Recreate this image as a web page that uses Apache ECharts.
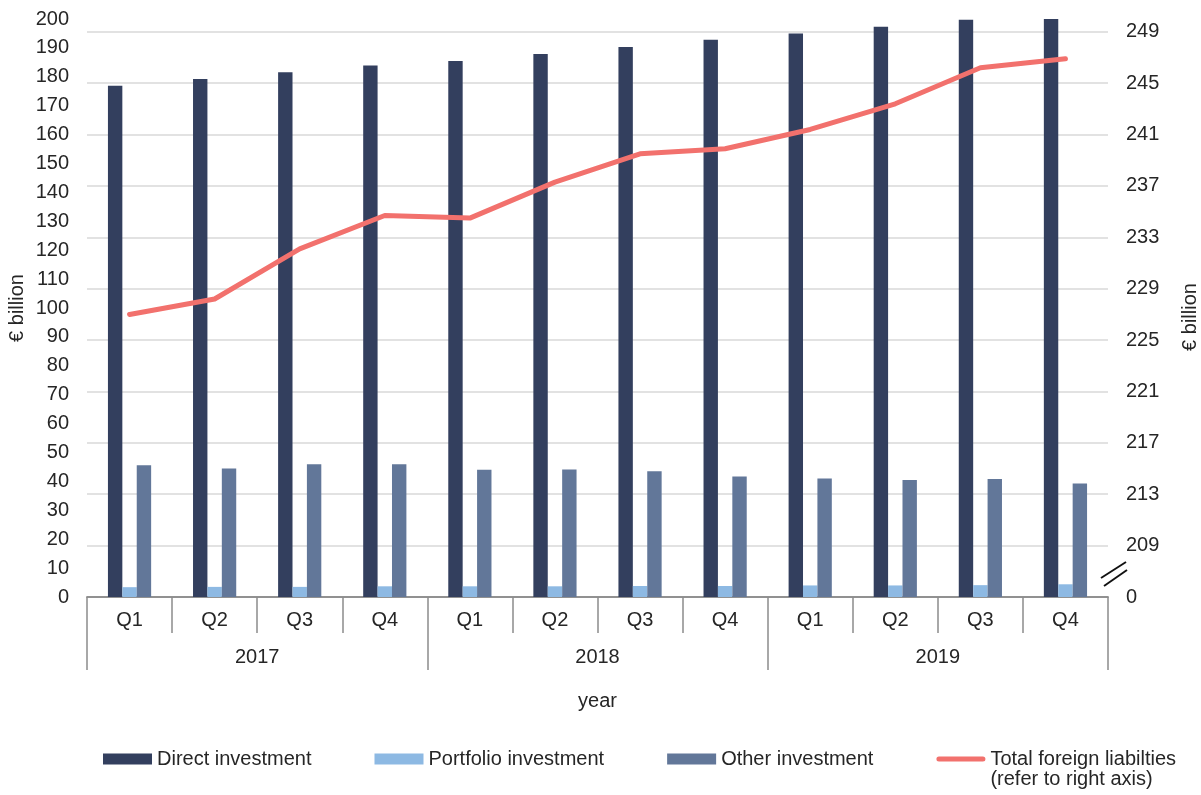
<!DOCTYPE html>
<html lang="en">
<head>
    <meta charset="UTF-8">
    <script src="https://cdn.jsdelivr.net/npm/echarts@6.0.0/dist/echarts.min.js"></script>
    <title>Foreign liabilities</title>
    <style>
      body { margin: 0; background: #fff; }
    </style>
</head>
<body>
    <div id="main" style="width: 1201px;height:795px;"></div>
    <script type="text/javascript">
      // data
      var quarters = ['Q1', 'Q2', 'Q3', 'Q4', 'Q1', 'Q2', 'Q3', 'Q4', 'Q1', 'Q2', 'Q3', 'Q4'];
      var years = ['2017', '2018', '2019'];
      var directInvestment = [176.9, 179.2, 181.6, 183.9, 185.5, 187.9, 190.3, 192.8, 195.0, 197.3, 199.7, 200];
      var portfolioInvestment = [3.4, 3.5, 3.5, 3.7, 3.7, 3.7, 3.8, 3.8, 4.0, 4.0, 4.1, 4.4];
      var otherInvestment = [45.6, 44.5, 45.9, 45.9, 44.0, 44.1, 43.5, 41.7, 41.0, 40.5, 40.8, 39.3];
      var totalLiabilities = [227.0, 228.2, 232.1, 234.7, 234.5, 237.3, 239.5, 239.9, 241.4, 243.4, 246.2, 246.9];

      var font = "'Liberation Sans', Arial, sans-serif";
      var txt = '#262626';
      var axisGrey = '#8c8c8c';
      var lineName = 'Total foreign liabilties\n(refer to right axis)';
      // thick rounded stroke for the line legend
      var lineIcon = 'path://M2.5,0 L46.5,0 A2.5,2.5 0 0 1 46.5,5 L2.5,5 A2.5,2.5 0 0 1 2.5,0 Z';

      var myChart = echarts.init(document.getElementById('main'));

      var option = {
        backgroundColor: '#fff',
        textStyle: { fontFamily: font },
        grid: { left: 87, right: 93, top: 19, bottom: 198, outerBoundsMode: 'none' },
        legend: {
          left: 103,
          top: 729,
          padding: 0,
          itemWidth: 49,
          itemHeight: 11,
          itemGap: 63,
          textStyle: { fontFamily: font, fontSize: 20, color: txt },
          // blank first line keeps the two-line label's first line level with the icon
          formatter: function (name) {
            return name === lineName ? '\n' + name : name;
          },
          data: [
            { name: 'Direct investment', icon: 'rect' },
            { name: 'Portfolio investment', icon: 'rect' },
            { name: 'Other investment', icon: 'rect' },
            { name: lineName, icon: lineIcon }
          ]
        },
        xAxis: [
          {
            type: 'category',
            data: quarters,
            axisLine: { show: true, lineStyle: { color: axisGrey, width: 1.5 } },
            axisTick: { show: true, interval: 0, length: 36, lineStyle: { color: axisGrey, width: 1.5 } },
            axisLabel: { interval: 0, margin: 13, fontSize: 20, color: txt, fontFamily: font }
          },
          {
            type: 'category',
            data: years,
            position: 'bottom',
            axisLine: { show: true, lineStyle: { color: axisGrey, width: 1.5 } },
            axisTick: { show: true, interval: 0, length: 73, lineStyle: { color: axisGrey, width: 1.5 } },
            axisLabel: { interval: 0, margin: 50, fontSize: 20, color: txt, fontFamily: font },
            name: 'year',
            nameLocation: 'middle',
            nameGap: 94,
            nameTextStyle: { fontSize: 20, color: txt, fontFamily: font }
          }
        ],
        yAxis: [
          {
            type: 'value',
            min: 0,
            max: 200,
            interval: 10,
            name: '€ billion',
            nameLocation: 'middle',
            nameGap: 60,
            nameMoveOverlap: false,
            nameTextStyle: { fontSize: 20, color: txt, fontFamily: font },
            axisLine: { show: false },
            axisTick: { show: false },
            splitLine: { show: false },
            axisLabel: { margin: 18, fontSize: 20, color: txt, fontFamily: font }
          },
          {
            type: 'value',
            min: 205,
            max: 250,
            interval: 4,
            name: '€ billion',
            nameLocation: 'middle',
            nameGap: 72,
            nameTextStyle: { fontSize: 20, color: txt, fontFamily: font, padding: [0, 18, 0, 0] },
            axisLine: { show: false },
            axisTick: { show: false },
            splitLine: { show: true, showMaxLine: false, lineStyle: { color: '#d9d9d9', width: 1.5 } },
            axisLabel: {
              margin: 18,
              fontSize: 20,
              color: txt,
              fontFamily: font,
              showMaxLabel: false,
              // the axis is broken: bottom of the right scale is shown as 0
              formatter: function (v) { return v === 205 ? '0' : String(v); }
            }
          }
        ],
        series: [
          {
            name: 'Direct investment',
            type: 'bar',
            barWidth: 14.4,
            barGap: '0%',
            itemStyle: { color: '#333f5e' },
            data: directInvestment
          },
          {
            name: 'Portfolio investment',
            type: 'bar',
            barWidth: 14.4,
            barGap: '0%',
            itemStyle: { color: '#8db9e3' },
            data: portfolioInvestment
          },
          {
            name: 'Other investment',
            type: 'bar',
            barWidth: 14.4,
            barGap: '0%',
            itemStyle: { color: '#627799' },
            data: otherInvestment
          },
          {
            name: lineName,
            type: 'line',
            yAxisIndex: 1,
            symbol: 'none',
            lineStyle: { color: '#f2716d', width: 5, cap: 'round', join: 'round' },
            itemStyle: { color: '#f2716d' },
            data: totalLiabilities
          }
        ],
        // axis break mark on the right
        graphic: [
          { type: 'line', shape: { x1: 1101, y1: 578, x2: 1126, y2: 562 }, style: { stroke: '#111', lineWidth: 2 } },
          { type: 'line', shape: { x1: 1104, y1: 586, x2: 1127, y2: 570 }, style: { stroke: '#111', lineWidth: 2 } }
        ]
      };

      myChart.setOption(option);
    </script>
</body>
</html>
